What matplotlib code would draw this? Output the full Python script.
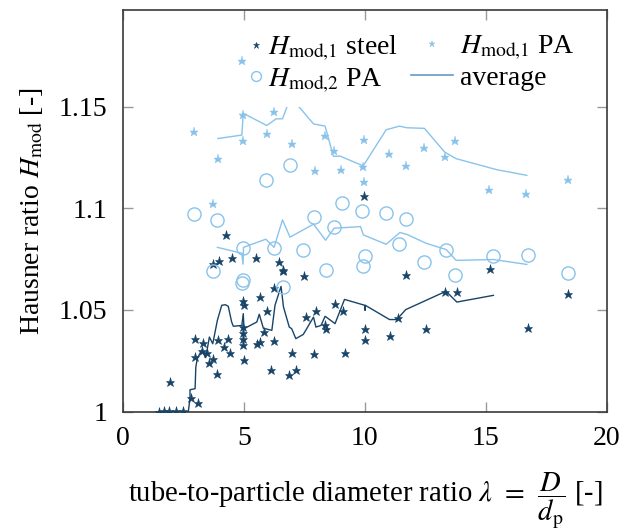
import matplotlib
matplotlib.use('Agg')
import matplotlib.pyplot as plt
from matplotlib.lines import Line2D

plt.rcParams['font.family'] = ['Liberation Serif', 'DejaVu Serif']
plt.rcParams['mathtext.fontset'] = 'stix'

# ---------------- data ----------------
steel_x = [1.51, 1.71, 1.93, 2.20, 2.50, 1.95, 2.81, 3.13, 2.99, 3.32, 2.99, 3.28, 3.48,
           3.58, 3.73, 3.88, 3.95, 4.19, 4.36, 4.43, 4.27, 3.74, 3.99, 4.53, 5.50, 6.47,
           6.61, 6.63, 7.48, 6.26, 5.69, 5.96, 5.84, 5.54, 5.67, 6.25, 6.12, 7.01, 6.88,
           7.15, 7.56, 7.99, 7.88, 8.34, 8.39, 8.77, 9.08, 9.19, 10.01, 10.01, 9.97,
           11.02, 11.35, 11.71, 12.53, 13.31, 13.79, 15.15, 16.72, 18.40,
           4.98, 5.01, 4.98, 4.98, 4.96, 4.96, 5.02]
steel_y = [1.0, 1.0003, 1.0005, 1.0005, 1.0003, 1.0146, 1.0067, 1.0043, 1.0357, 1.0337,
           1.0267, 1.0297, 1.0288, 1.0241, 1.0259, 1.0187, 1.0351, 1.0316, 1.0359, 1.0287,
           1.0867, 1.0725, 1.0740, 1.0758, 1.0754, 1.0735, 1.0697, 1.0690, 1.0666, 1.0609,
           1.0564, 1.0494, 1.0393, 1.0331, 1.0345, 1.0347, 1.0203, 1.0289, 1.0182, 1.0206,
           1.0465, 1.0495, 1.0285, 1.0424, 1.0407, 1.0531, 1.0495, 1.0289, 1.0405, 1.0351,
           1.1061, 1.0370, 1.0462, 1.0673, 1.0405, 1.0589, 1.0588, 1.0700, 1.0413, 1.0577,
           1.0545, 1.0523, 1.0417, 1.0385, 1.0359, 1.0326, 1.0256]

pa1_x = [2.96, 3.72, 3.93, 4.92, 4.98, 4.98, 5.95, 6.25, 6.98, 7.95, 8.36, 8.73, 9.03,
         9.98, 9.92, 9.98, 10.99, 11.69, 12.46, 13.30, 13.73, 15.11, 16.67, 18.38]
pa1_y = [1.1375, 1.1021, 1.1240, 1.1722, 1.1457, 1.1330, 1.1364, 1.1474, 1.1315, 1.1183,
         1.1354, 1.1282, 1.1187, 1.1334, 1.1203, 1.1129, 1.1266, 1.1209, 1.1298, 1.1251,
         1.1330, 1.1092, 1.1069, 1.1141]

pa2_x = [2.95, 3.72, 3.91, 4.92, 4.96, 4.98, 5.91, 6.25, 6.60, 6.91, 7.46, 7.88, 8.38,
         8.73, 9.05, 9.88, 9.94, 10.01, 10.88, 11.43, 11.71, 12.46, 13.34, 13.73, 15.31,
         16.72, 18.40]
pa2_y = [1.0971, 1.0692, 1.0941, 1.0631, 1.0805, 1.0649, 1.1138, 1.0805, 1.0613, 1.1215,
         1.0793, 1.0957, 1.0697, 1.0907, 1.1025, 1.0987, 1.0715, 1.0764, 1.0975, 1.0826,
         1.0949, 1.0735, 1.0795, 1.0672, 1.0764, 1.0772, 1.0682]

avg_steel_x = [1.40, 2.64, 2.71, 2.78, 2.78, 2.99, 3.02, 3.08, 3.26, 3.43, 3.58, 3.72, 3.91,
               4.09, 4.24, 4.36, 4.50, 4.57, 4.92, 4.98, 5.01, 5.54, 5.64, 5.81, 6.16, 6.29,
               6.54, 6.64, 6.88, 6.98, 7.15, 7.46, 7.88, 7.98, 8.19, 8.36, 8.77, 9.16, 10.00,
               10.01, 10.02, 11.02, 11.32, 11.69, 13.35, 13.80, 15.31]
avg_steel_y = [1.0, 1.0, 1.0, 1.0064, 1.0108, 1.0113, 1.0219, 1.0261, 1.0302, 1.0266, 1.0367,
               1.0334, 1.0449, 1.0523, 1.0526, 1.0518, 1.0441, 1.0420, 1.0424, 1.0482, 1.0408,
               1.0441, 1.0479, 1.0410, 1.0400, 1.0523, 1.0616, 1.0515, 1.0416, 1.0408, 1.0359,
               1.0380, 1.0465, 1.0416, 1.0424, 1.0469, 1.0433, 1.0552, 1.0523, 1.0498, 1.0523,
               1.0453, 1.0453, 1.0502, 1.0592, 1.0539, 1.0572]

avg_pa1_x = [3.93, 4.92, 4.98, 5.95, 6.34, 6.60, 6.85, 7.02, 7.13, 7.88, 8.36, 8.70, 8.99,
             9.88, 9.92, 10.88, 11.43, 11.73, 12.46, 13.30, 13.77, 15.44, 16.69]
avg_pa1_y = [1.1343, 1.1360, 1.1467, 1.1407, 1.1440, 1.1440, 1.1520, 1.1550, 1.1520, 1.1415,
             1.1404, 1.1256, 1.1256, 1.1211, 1.1206, 1.1386, 1.1404, 1.1396, 1.1393, 1.1276,
             1.1244, 1.1190, 1.1162]

avg_pa2_x = [3.91, 4.92, 4.97, 4.99, 5.91, 6.25, 6.60, 6.91, 7.88, 8.38, 8.73, 9.82, 9.94,
             10.88, 11.45, 11.73, 12.53, 13.36, 13.77, 15.31, 16.69]
avg_pa2_y = [1.0808, 1.0779, 1.0725, 1.0808, 1.0848, 1.0808, 1.0943, 1.0858, 1.0922, 1.0843,
             1.0902, 1.0910, 1.0869, 1.0823, 1.0881, 1.0872, 1.0828, 1.0797, 1.0744, 1.0748,
             1.0724]

x_ticks = [0, 5, 10, 15, 20]
y_ticks = [1.0, 1.05, 1.1, 1.15]
y_ticklabels = ['1', '1.05', '1.1', '1.15']

dark = '#184468'
light = '#89c3ec'
FS = 20

fig = plt.figure(figsize=(6.35, 5.31), dpi=100)
ax = fig.add_axes([0.1932, 0.2247, 0.7627, 0.7565])

h_steel, = ax.plot(steel_x, steel_y, ls='none', marker='*', ms=6.5, color=dark,
                   mec=dark, mew=0.4, label=r'$H_{\mathrm{mod}{,}1}$ steel', zorder=6)
h_pa1, = ax.plot(pa1_x, pa1_y, ls='none', marker='*', ms=6.5, color=light,
                 mec=light, mew=0.3, label=r'$H_{\mathrm{mod}{,}1}$ PA', zorder=6)
h_pa2, = ax.plot(pa2_x, pa2_y, ls='none', marker='o', ms=9.5, mfc='none',
                 mec=light, mew=1.0, label=r'$H_{\mathrm{mod}{,}2}$ PA', zorder=6)
ax.plot(avg_steel_x, avg_steel_y, color=dark, lw=1.0, zorder=2)
ax.plot(avg_pa1_x, avg_pa1_y, color=light, lw=1.0, zorder=2)
ax.plot(avg_pa2_x, avg_pa2_y, color=light, lw=1.0, zorder=2)
h_avg = Line2D([], [], color='#6a98c4', lw=1.2, label='average')

ax.set_xlim(0, 20)
ax.set_ylim(1.0, 1.1975)
ax.set_xticks(x_ticks)
ax.set_xticklabels([str(t) for t in x_ticks])
ax.set_yticks(y_ticks)
ax.set_yticklabels(y_ticklabels)
ax.tick_params(direction='in', length=7, width=1.0, color='#9a9a9a', top=True,
               right=True, labelsize=FS, pad=10)
ax.tick_params(axis='y', pad=11)
for s in ax.spines.values():
    s.set_color('#3a3a3a')
    s.set_linewidth(1.2)

ax.set_xlabel(r'tube-to-particle diameter ratio $\lambda\,\;=\,\;\dfrac{D}{d_{\mathrm{p}}}$ [-]',
              fontsize=20.6, labelpad=14)
ax.set_ylabel(r'Hausner ratio $H_{\mathrm{mod}}$ [-]', fontsize=FS, labelpad=10)

common = dict(loc='upper left', fontsize=FS, frameon=True, framealpha=1,
              edgecolor='none', facecolor='white', fancybox=False,
              labelspacing=0.12, borderpad=0.45, borderaxespad=0, markerscale=0.75)
leg1 = ax.legend(handles=[h_steel, h_pa2], bbox_to_anchor=(0.237, 0.972),
                 handlelength=0.4, handletextpad=0.25, **common)
leg1.set_zorder(4)
ax.add_artist(leg1)
leg2 = ax.legend(handles=[h_pa1, h_avg], bbox_to_anchor=(0.57, 0.972),
                 handlelength=1.5, handletextpad=0.25, **common)
leg2.set_zorder(4)

fig.savefig('out.png', dpi=100)
